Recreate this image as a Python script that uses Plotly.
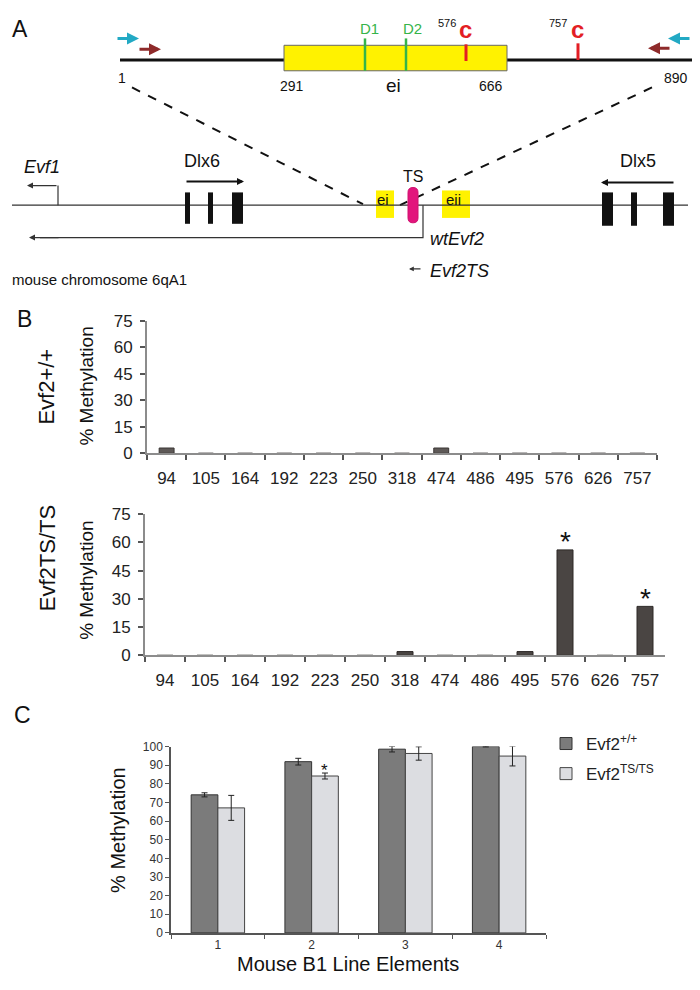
import plotly.graph_objects as go

# ---------------- data ----------------
positions = ["94", "105", "164", "192", "223", "250", "318", "474", "486", "495", "576", "626", "757"]
meth_wt = [3, 0, 0, 0, 0, 0, 0, 3, 0, 0, 0, 0, 0]
meth_ts = [0, 0, 0, 0, 0, 0, 2, 0, 0, 2, 56, 0, 26]
sig_b = ["576", "757"]
b_yticks = [0, 15, 30, 45, 60, 75]

b1_elements = ["1", "2", "3", "4"]
b1_wt = [74.1, 91.9, 98.6, 100.0]
b1_wt_err = [1.1, 1.8, 1.5, 0.2]
b1_ts = [67.1, 84.2, 96.3, 94.9]
b1_ts_err = [6.7, 1.6, 3.6, 5.3]
b1_sig = ["2"]
c_yticks = list(range(0, 101, 10))

W, H = 700, 990
FONT = "Arial, Liberation Sans, sans-serif"


def px(x):
    return x / W


def py(y):
    return 1 - y / H


fig = go.Figure()

# ---------------- panel B bars ----------------
fig.add_trace(go.Bar(x=positions, y=meth_wt, xaxis="x", yaxis="y", width=0.38,
                     marker=dict(color="#5e5957", line=dict(color="#3a3634", width=1)),
                     showlegend=False, hoverinfo="skip"))
fig.add_trace(go.Bar(x=positions, y=meth_ts, xaxis="x2", yaxis="y2", width=0.4,
                     marker=dict(color="#4a4543", line=dict(color="#2c2826", width=1)),
                     showlegend=False, hoverinfo="skip"))

# ---------------- panel C bars ----------------
fig.add_trace(go.Bar(x=b1_elements, y=b1_wt, name="Evf2<sup>+/+</sup>", xaxis="x3", yaxis="y3",
                     legendgroup="wt",
                     error_y=dict(type="data", array=b1_wt_err, color="#222", thickness=1, width=3),
                     marker=dict(color="#7b7b7b", line=dict(color="#333", width=1)), hoverinfo="skip"))
fig.add_trace(go.Bar(x=b1_elements, y=b1_ts, name="Evf2<sup>TS/TS</sup>", xaxis="x3", yaxis="y3",
                     legendgroup="ts",
                     error_y=dict(type="data", array=b1_ts_err, color="#222", thickness=1, width=3),
                     marker=dict(color="#dcdde1", line=dict(color="#444", width=1)), hoverinfo="skip"))

# invisible trace for schematic canvas
fig.add_trace(go.Scatter(x=[0], y=[0], xaxis="x4", yaxis="y4", mode="markers",
                         marker=dict(opacity=0), showlegend=False, hoverinfo="skip"))

axB = dict(showline=True, linecolor="#8c8c8c", linewidth=2, ticks="outside", tickcolor="#555",
           tickwidth=1.5, showgrid=False, zeroline=False, fixedrange=True)
fig.update_layout(
    xaxis=dict(domain=[px(147), px(657)], anchor="y", type="category", tickson="boundaries", ticklen=5,
               tickfont=dict(size=17, color="#222", family=FONT), ticklabelstandoff=8, **axB),
    yaxis=dict(domain=[py(453), py(318)], anchor="x", range=[0, 75], tickvals=b_yticks, ticklen=5,
               tickfont=dict(size=17, color="#222", family=FONT), ticklabelstandoff=4, **axB),
    xaxis2=dict(domain=[px(145), px(665)], anchor="y2", type="category", tickson="boundaries", ticklen=5,
                tickfont=dict(size=17, color="#222", family=FONT), ticklabelstandoff=8, **axB),
    yaxis2=dict(domain=[py(659), py(515)], anchor="x2", range=[0, 75], tickvals=b_yticks, ticklen=5,
                tickfont=dict(size=17, color="#222", family=FONT), ticklabelstandoff=4, **axB),
    xaxis3=dict(domain=[px(171), px(546)], anchor="y3", type="category", tickson="boundaries", ticklen=4,
                showline=True, linecolor="#555", linewidth=1.5, ticks="outside", tickcolor="#555",
                tickfont=dict(size=12, color="#333", family=FONT), showgrid=False, zeroline=False,
                fixedrange=True),
    yaxis3=dict(domain=[py(942), py(752)], anchor="x3", range=[0, 100], tickvals=c_yticks, ticklen=4,
                showline=True, linecolor="#555", linewidth=1.5, ticks="outside", tickcolor="#555",
                tickfont=dict(size=12, color="#333", family=FONT), showgrid=False, zeroline=False,
                fixedrange=True),
    xaxis4=dict(domain=[0, 1], anchor="y4", range=[0, W], visible=False, fixedrange=True),
    yaxis4=dict(domain=[0, 1], anchor="x4", range=[H, 0], visible=False, fixedrange=True),
    barmode="group", bargap=0.43, bargroupgap=0,
    width=W, height=H, margin=dict(l=0, r=0, t=0, b=0),
    paper_bgcolor="white", plot_bgcolor="rgba(0,0,0,0)",
    font=dict(family=FONT, color="#111"),
    legend=dict(x=px(546), y=py(731), xanchor="left", yanchor="top", font=dict(size=17, color="#222"),
                bgcolor="rgba(0,0,0,0)", tracegroupgap=5),
    showlegend=True,
)

shapes = []
ann = []


def S(**kw):
    d = dict(xref="x4", yref="y4")
    d.update(kw)
    shapes.append(d)


def T(x, y, text, size=14, color="#111", **kw):
    d = dict(xref="x4", yref="y4", x=x, y=y, text=text, showarrow=False,
             font=dict(size=size, color=color, family=FONT))
    d.update(kw)
    ann.append(d)


def ARROW(x0, y0, x1, y1, color="#111", width=1.2, head=2, size=1.0):
    ann.append(dict(xref="x4", yref="y4", axref="x4", ayref="y4", x=x1, y=y1, ax=x0, ay=y0,
                    text="", showarrow=True, arrowhead=head, arrowsize=size, arrowwidth=width,
                    arrowcolor=color, standoff=0, startstandoff=0))


# ---------------- panel A: top ei detail ----------------
S(type="line", x0=120, y0=52, x1=692, y1=52, line=dict(color="#111", width=3))
S(type="rect", x0=284, y0=37, x1=507, y1=63, fillcolor="#fff200", line=dict(color="#666", width=1))
for xd in (365, 406):
    S(type="line", x0=xd, y0=30, x1=xd, y1=63, line=dict(color="#35b44a", width=2.5))
T(369, 20, "D1", 15, "#35b44a")
T(412, 20, "D2", 15, "#35b44a")
S(type="line", x0=466, y0=36, x1=466, y1=53, line=dict(color="#e31e24", width=3))
S(type="line", x0=578, y0=35, x1=578, y1=52, line=dict(color="#e31e24", width=3))
T(447, 14, "576", 11, "#111")
T(465, 21, "<b>c</b>", 24, "#e31e24")
T(558, 14, "757", 11, "#111")
T(577, 21, "<b>c</b>", 24, "#e31e24")
T(122, 70, "1", 14)
T(292, 78, "291", 14)
T(393, 78, "ei", 19)
T(491, 79, "666", 14)
T(676, 70, "890", 14)
# primers
ARROW(116, 30, 139, 30, color="#22a9c4", width=3, head=2, size=0.8)
ARROW(138, 41, 161, 41, color="#8e2a2a", width=3, head=2, size=0.8)
ARROW(671, 40, 648, 40, color="#8e2a2a", width=3, head=2, size=0.8)
ARROW(691, 30, 668, 30, color="#22a9c4", width=3, head=2, size=0.8)
# dashed zoom lines
S(type="line", x0=132, y0=80, x1=363, y1=199, line=dict(color="#111", width=2, dash="dash"))
S(type="line", x0=652, y0=80, x1=400, y1=200, line=dict(color="#111", width=2, dash="dash"))

# ---------------- panel A: locus ----------------
S(type="rect", x0=376, y0=185, x1=394, y1=213, fillcolor="#fff200", line=dict(width=0), layer="below")
S(type="rect", x0=442, y0=185, x1=470, y1=213, fillcolor="#fff200", line=dict(width=0), layer="below")
S(type="line", x0=12, y0=200, x1=688, y1=200, line=dict(color="#333", width=1.2))
T(383, 194, "ei", 15)
T(453, 194, "eii", 15)
# TS pill
S(type="path", path="M 408 187 Q 408 182 413 182 Q 418 182 418 187 L 418 213 Q 418 218 413 218 Q 408 218 408 213 Z",
  fillcolor="#e2157c", line=dict(color="#d0106e", width=1))
T(413, 171, "TS", 16)
# Evf1
S(type="line", x0=58, y0=200, x1=58, y1=180, line=dict(color="#333", width=1.2))
ARROW(58, 180, 27, 180, color="#333", width=1.2, head=2, size=1.0)
T(42, 161, "<i>Evf1</i>", 18)
# Dlx6
T(202, 155, "Dlx6", 18)
ARROW(185, 176, 244, 176, color="#111", width=2, head=2, size=0.7)
for x0, x1 in ((185, 190), (208, 213), (232, 243)):
    S(type="rect", x0=x0, y0=187, x1=x1, y1=219, fillcolor="#111", line=dict(width=0))
# Dlx5
T(638, 155, "Dlx5", 18)
ARROW(675, 177, 601, 177, color="#111", width=2, head=2, size=0.7)
for x0, x1 in ((602, 613), (631, 637), (663, 674)):
    S(type="rect", x0=x0, y0=187, x1=x1, y1=221, fillcolor="#111", line=dict(width=0))
# wtEvf2 transcript
S(type="path", path="M 423 200 L 423 233 L 40 233", line=dict(color="#333", width=1.2))
ARROW(60, 233, 29, 233, color="#333", width=1.2, head=2, size=1.0)
T(428, 234, "<i>wtEvf2</i>", 18, xanchor="left")
# Evf2TS
ARROW(422, 265, 409, 265, color="#333", width=1.2, head=2, size=0.8)
T(428, 267, "<i>Evf2TS</i>", 18, xanchor="left")
T(10, 276, "mouse chromosome 6qA1", 15, xanchor="left")

# panel letters
T(20, 20, "A", 23)
T(24, 316, "B", 23)
T(22, 720, "C", 23)

# ---------------- panel B labels ----------------
T(47, 385, "Evf2+/+", 22, textangle=-90)
T(87, 385, "% Methylation", 19, textangle=-90)
T(47, 560, "Evf2TS/TS", 22, textangle=-90)
T(87, 583, "% Methylation", 19, textangle=-90)
for cat in sig_b:
    i = positions.index(cat)
    ann.append(dict(xref="x2", yref="y2", x=i, y=meth_ts[i], text="*", showarrow=False, yanchor="middle",
                    yshift=8, font=dict(size=28, color="#111", family=FONT)))

# ---------------- panel C labels ----------------
T(118, 837, "% Methylation", 20, textangle=-90)
T(348, 974, "Mouse B1 Line Elements", 20)
for cat in b1_sig:
    i = b1_elements.index(cat)
    ann.append(dict(xref="x3", yref="y3", x=i, y=b1_ts[i] + b1_ts_err[i], text="*", showarrow=False,
                    xshift=13, yanchor="middle", yshift=3, font=dict(size=17, color="#111", family=FONT)))

fig.update_layout(shapes=shapes, annotations=ann)
fig.write_html("out.html", config={"displayModeBar": False},
               post_script="document.body.style.margin='0';document.documentElement.style.overflow='hidden';")
